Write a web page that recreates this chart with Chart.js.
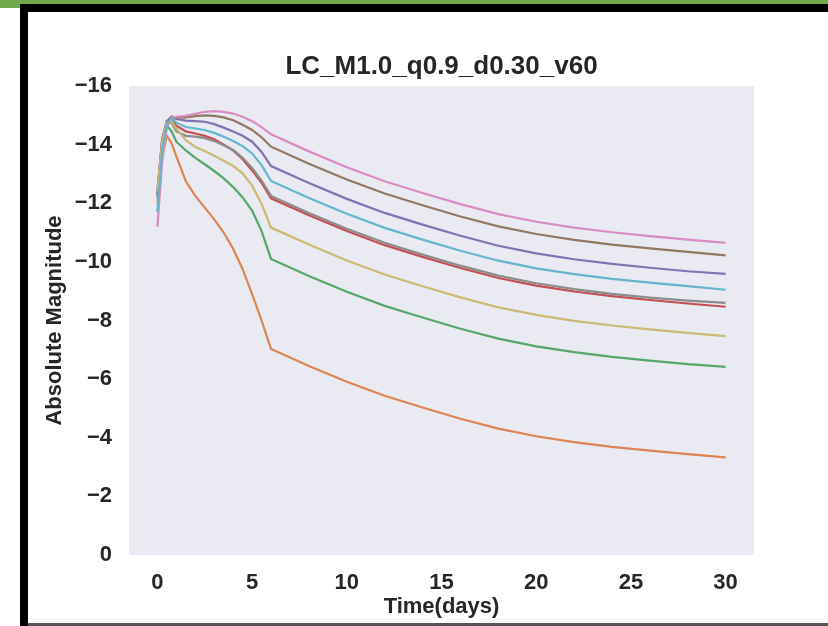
<!DOCTYPE html>
<html>
<head>
<meta charset="utf-8">
<script src="https://cdn.jsdelivr.net/npm/chart.js@4.4.0/dist/chart.umd.min.js"></script>
<style>
  html,body{margin:0;padding:0;background:#fff;overflow:hidden;}
  #wrap{position:relative;width:828px;height:626px;}
  #c{position:absolute;left:0;top:0;}
  .fr{position:absolute;}
</style>
</head>
<body>
<div id="wrap">
  <canvas id="c" width="828" height="626"></canvas>
  <div class="fr" style="left:0;top:0;width:828px;height:4px;background:#6fa84a"></div>
  <div class="fr" style="left:0;top:4px;width:20px;height:4px;background:#6fa84a"></div>
  <div class="fr" style="left:20px;top:4px;width:808px;height:8px;background:#000"></div>
  <div class="fr" style="left:20px;top:4px;width:8px;height:622px;background:#000"></div>
  <div class="fr" style="left:28px;top:623px;width:800px;height:3px;background:#555"></div>
</div>
<script>
/* ===== DATA ===== */
const TITLE='LC_M1.0_q0.9_d0.30_v60';
const times=[0,0.25,0.5,0.75,1,1.5,2,2.5,3,3.5,4,4.5,5,5.5,6,8,10,12,14,16,18,20,22,24,26,28,30];

const magOrange=[-12.0,-13.6,-14.3,-14.05,-13.6,-12.75,-12.25,-11.85,-11.45,-11.0,-10.45,-9.75,-8.9,-8.0,-7.03,
  -6.45,-5.91,-5.43,-5.03,-4.65,-4.31,-4.05,-3.85,-3.69,-3.56,-3.44,-3.33];
const magGreen=[-12.3,-14.0,-14.65,-14.45,-14.1,-13.8,-13.55,-13.33,-13.1,-12.85,-12.55,-12.2,-11.75,-11.05,-10.1,
  -9.52,-8.98,-8.5,-8.1,-7.72,-7.38,-7.12,-6.92,-6.76,-6.63,-6.51,-6.42];
const magRed=[-12.4,-14.2,-14.8,-14.85,-14.65,-14.45,-14.38,-14.3,-14.18,-14.0,-13.8,-13.5,-13.12,-12.7,-12.17,
  -11.59,-11.05,-10.57,-10.17,-9.79,-9.45,-9.19,-8.99,-8.83,-8.7,-8.58,-8.47];
const magPurple=[-12.3,-14.1,-14.8,-14.95,-14.88,-14.82,-14.8,-14.78,-14.7,-14.58,-14.45,-14.3,-14.1,-13.75,-13.27,
  -12.69,-12.15,-11.67,-11.27,-10.89,-10.55,-10.29,-10.09,-9.93,-9.8,-9.68,-9.59];
const magBrown=[-12.2,-14.0,-14.75,-14.95,-14.93,-14.93,-14.97,-15.0,-14.98,-14.93,-14.83,-14.68,-14.5,-14.25,-13.93,
  -13.35,-12.81,-12.33,-11.93,-11.55,-11.21,-10.95,-10.75,-10.59,-10.46,-10.34,-10.22];
const magPink=[-11.2,-13.4,-14.6,-14.92,-14.95,-14.98,-15.05,-15.12,-15.14,-15.12,-15.06,-14.95,-14.8,-14.6,-14.35,
  -13.77,-13.23,-12.75,-12.35,-11.97,-11.63,-11.37,-11.17,-11.01,-10.88,-10.76,-10.65];
const magGray=[-12.4,-14.15,-14.75,-14.75,-14.45,-14.3,-14.27,-14.22,-14.12,-13.98,-13.82,-13.55,-13.2,-12.77,-12.25,
  -11.67,-11.13,-10.65,-10.25,-9.87,-9.53,-9.27,-9.07,-8.91,-8.78,-8.68,-8.6];
const magOlive=[-12.4,-14.1,-14.75,-14.8,-14.55,-14.15,-13.92,-13.78,-13.62,-13.45,-13.27,-13.02,-12.6,-11.98,-11.17,
  -10.59,-10.05,-9.57,-9.17,-8.79,-8.45,-8.19,-7.99,-7.83,-7.7,-7.58,-7.47];
const magCyan=[-11.7,-13.8,-14.7,-14.9,-14.75,-14.6,-14.55,-14.5,-14.4,-14.27,-14.12,-13.95,-13.7,-13.3,-12.76,
  -12.18,-11.64,-11.16,-10.76,-10.38,-10.04,-9.78,-9.58,-9.42,-9.29,-9.17,-9.05];

// plotting order (later = on top), seaborn deep palette
const series=[magOrange,magGreen,magRed,magPurple,magBrown,magPink,magGray,magOlive,magCyan];
const colors=['#DD8452','#55A868','#C44E52','#8172B3','#937860','#DA8BC3','#8C8C8C','#CCB974','#64B5CD'];

const xTicks=[0,5,10,15,20,25,30];
const yTicks=[-16,-14,-12,-10,-8,-6,-4,-2,0];

/* ===== CHART ===== */
const FONT='"Liberation Sans", Arial, sans-serif';
const TXT='#262626';

const bgPlugin={
  id:'plotBg',
  beforeDraw(ch){
    const {ctx,chartArea:a}=ch;
    ctx.save();
    ctx.fillStyle='#EAEAF2';
    ctx.fillRect(a.left,a.top,a.right-a.left,a.bottom-a.top);
    ctx.restore();
  },
  afterDraw(ch){
    const {ctx,chartArea:a}=ch;
    ctx.save();
    ctx.fillStyle=TXT;
    ctx.font='bold 26px '+FONT;
    ctx.textAlign='center';
    ctx.textBaseline='middle';
    ctx.fillText(TITLE,(a.left+a.right)/2,67);
    ctx.restore();
  }
};

const n=series.length;
new Chart(document.getElementById('c'),{
  type:'line',
  data:{
    datasets:series.map((s,i)=>({
      data:times.map((t,j)=>({x:t,y:s[j]})),
      borderColor:colors[i],borderWidth:2.2,pointRadius:0,fill:false,tension:0,
      order:n-i
    }))
  },
  options:{
    responsive:false,animation:false,devicePixelRatio:1,
    layout:{padding:{top:86,left:28,right:74,bottom:0}},
    plugins:{legend:{display:false},tooltip:{enabled:false},title:{display:false}},
    scales:{
      x:{
        type:'linear',min:-1.5,max:31.5,
        afterBuildTicks:s=>{s.ticks=xTicks.map(v=>({value:v}));},
        afterFit:s=>{s.height=71;},
        ticks:{color:TXT,font:{family:FONT,size:22,weight:'bold'},padding:15,maxRotation:0},
        grid:{display:false,drawTicks:false},border:{display:false},
        title:{display:true,text:'Time(days)',color:TXT,font:{family:FONT,size:22,weight:'bold'},padding:{top:0,bottom:6}}
      },
      y:{
        type:'linear',reverse:true,min:-16,max:0,
        afterBuildTicks:s=>{s.ticks=yTicks.map(v=>({value:v}));},
        afterFit:s=>{s.width=101;},
        ticks:{color:TXT,font:{family:FONT,size:22,weight:'bold'},padding:17,
          callback:v=>v<0?'\u2212'+Math.abs(v):String(v)},
        grid:{display:false,drawTicks:false},border:{display:false},
        title:{display:true,text:'Absolute Magnitude',color:TXT,font:{family:FONT,size:22,weight:'bold'},padding:{top:14,bottom:0}}
      }
    }
  },
  plugins:[bgPlugin]
});
</script>
</body>
</html>
